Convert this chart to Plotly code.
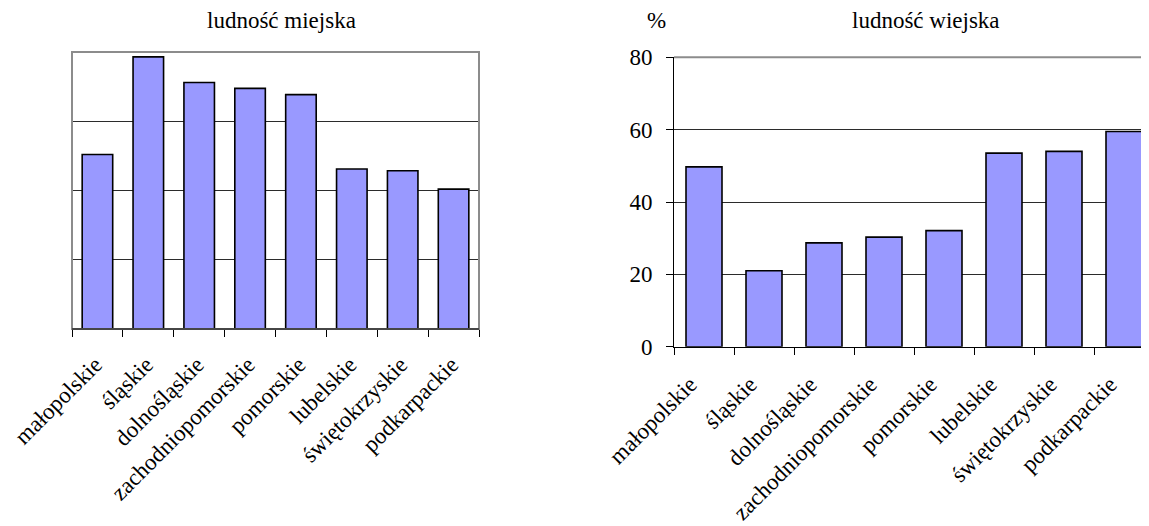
import plotly.graph_objects as go

categories = ["małopolskie", "śląskie", "dolnośląskie", "zachodniopomorskie",
              "pomorskie", "lubelskie", "świętokrzyskie", "podkarpackie"]
urban = [50.4, 78.6, 71.2, 69.5, 67.7, 46.2, 45.7, 40.4]
rural = [49.7, 21.0, 28.7, 30.3, 32.1, 53.5, 54.0, 59.5]
y_ticks = [0, 20, 40, 60, 80]
y_tick_labels = ["0", "20", "40", "60", "80"]

OFF = 8  # page body margin
W, H = 1149 - OFF, 526 - OFF
FONT = "Liberation Serif, Times New Roman, serif"
FS = 23
BAR = "#9999FF"
GRID = "#2b2b2b"
FRAME = "#8c8c8c"

fig = go.Figure()
fig.add_trace(go.Bar(x=categories, y=urban, xaxis="x", yaxis="y",
                     marker=dict(color=BAR, line=dict(color="black", width=1.6)),
                     hoverinfo="x+y"))
fig.add_trace(go.Bar(x=categories, y=rural, xaxis="x2", yaxis="y2",
                     marker=dict(color=BAR, line=dict(color="black", width=1.6)),
                     hoverinfo="x+y"))

def px_x(p):
    return (p - OFF) / W

def px_y(p):
    return 1 - (p - OFF) / H

common_x = dict(type="category", tickson="boundaries", ticks="outside", ticklen=7,
                tickcolor="black", tickwidth=1, showline=True, linecolor="black",
                linewidth=1, showgrid=False, tickangle=-45, automargin=False,
                tickfont=dict(family=FONT, size=FS, color="black"))

fig.update_layout(
    template="none",
    width=W, height=H,
    margin=dict(l=0, r=0, t=0, b=0, pad=0),
    paper_bgcolor="white", plot_bgcolor="white",
    showlegend=False, bargap=0.4,
    xaxis=dict(domain=[px_x(72), px_x(479)], range=[-0.5, 7.5], anchor="y",
               ticklabelshift=-2, ticklabelstandoff=12, **common_x),
    yaxis=dict(domain=[px_y(329), px_y(52)], range=[0, 80], anchor="x",
               tickvals=y_ticks, showticklabels=False, ticks="", automargin=False,
               showgrid=True, gridcolor=GRID, gridwidth=1, zeroline=False,
               showline=False),
    xaxis2=dict(domain=[px_x(674), 1.0], range=[-0.5, -0.5 + (1149 - 674) / 60.0],
                anchor="y2", ticklabelshift=-14, ticklabelstandoff=14, **common_x),
    yaxis2=dict(domain=[px_y(346.7), px_y(57.3)], range=[0, 80], anchor="x2",
                tickvals=y_ticks, ticktext=y_tick_labels, ticks="outside", ticklen=7,
                tickcolor="black", showline=True, linecolor="black", linewidth=1,
                showgrid=True, gridcolor=GRID, gridwidth=1, zeroline=False,
                automargin=False, ticklabelstandoff=9,
                tickfont=dict(family=FONT, size=FS, color="black")),
    shapes=[
        dict(type="rect", xref="x domain", yref="y domain", x0=0, x1=1, y0=0, y1=1,
             line=dict(color=FRAME, width=2), fillcolor="rgba(0,0,0,0)", layer="above"),
        dict(type="line", xref="x domain", yref="y domain", x0=0, x1=1, y0=0, y1=0,
             line=dict(color="black", width=1), layer="above"),
        dict(type="line", xref="x2 domain", yref="y2 domain", x0=0, x1=1, y0=1, y1=1,
             line=dict(color=FRAME, width=2), layer="above"),
    ],
    annotations=[
        dict(text="ludność miejska", xref="paper", yref="paper", x=px_x(281), y=px_y(21),
             xanchor="center", yanchor="middle", showarrow=False,
             font=dict(family=FONT, size=FS, color="black")),
        dict(text="ludność wiejska", xref="paper", yref="paper", x=px_x(926), y=px_y(21),
             xanchor="center", yanchor="middle", showarrow=False,
             font=dict(family=FONT, size=FS, color="black")),
        dict(text="%", xref="paper", yref="paper", x=px_x(656), y=px_y(21),
             xanchor="center", yanchor="middle", showarrow=False,
             font=dict(family=FONT, size=FS, color="black")),
    ],
)

fig.write_html("out.html", config={"displayModeBar": False})
